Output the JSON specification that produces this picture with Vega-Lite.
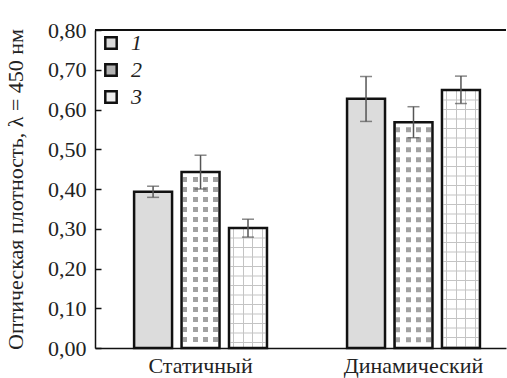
{
  "$schema": "https://vega.github.io/schema/vega-lite/v6.json",
  "width": 411,
  "height": 318,
  "autosize": {"type": "none"},
  "padding": {"left": 95, "top": 30, "right": 1, "bottom": 30},
  "background": "white",
  "config": {
    "view": {"stroke": null},
    "font": "Liberation Serif",
    "axis": {"labelFont": "Liberation Serif", "titleFont": "Liberation Serif", "labelColor": "#222", "titleColor": "#222", "domainColor": "#111", "domainWidth": 1.5, "grid": false},
    "legend": {"labelFont": "Liberation Serif"}
  },
  "data": {
    "values": [
      {"group": "Статичный", "series": "1", "value": 0.393, "lo": 0.379, "hi": 0.407},
      {"group": "Статичный", "series": "2", "value": 0.443, "lo": 0.400, "hi": 0.485},
      {"group": "Статичный", "series": "3", "value": 0.302, "lo": 0.279, "hi": 0.324},
      {"group": "Динамический", "series": "1", "value": 0.627, "lo": 0.570, "hi": 0.683},
      {"group": "Динамический", "series": "2", "value": 0.568, "lo": 0.529, "hi": 0.607},
      {"group": "Динамический", "series": "3", "value": 0.649, "lo": 0.615, "hi": 0.684}
    ]
  },
  "encoding": {
    "x": {
      "field": "group", "type": "nominal", "sort": ["Статичный", "Динамический"],
      "scale": {"paddingInner": 0.376, "paddingOuter": 0.153, "align": 0.6},
      "axis": {"title": null, "labelFontSize": 22, "labelPadding": 7, "ticks": false, "labelAngle": 0}
    },
    "xOffset": {"field": "series", "type": "nominal", "scale": {"paddingInner": 0.2, "paddingOuter": 0}}
  },
  "layer": [
    {
      "mark": {"type": "bar"},
      "encoding": {
        "y": {
          "field": "value", "type": "quantitative", "title": "Оптическая плотность, λ = 450 нм",
          "scale": {"domain": [0, 0.8], "nice": false},
          "axis": {"values": [0, 0.1, 0.2, 0.3, 0.4, 0.5, 0.6, 0.7, 0.8], "labelExpr": "replace(format(datum.value, '.2f'), '.', ',')", "labelFontSize": 22, "titleFontSize": 22, "titleFontWeight": "normal", "tickSize": -6, "tickColor": "#111", "tickWidth": 1.5, "labelPadding": 15, "titlePadding": 20, "labelOverlap": false}
        },
        "color": {
          "field": "series", "type": "nominal",
          "scale": {"domain": ["1", "2", "3"], "range": ["#dcdcdc", "#b2b2b2", "#efefef"]},
          "legend": {"title": null, "orient": "none", "legendX": 5, "legendY": 2, "symbolType": "square", "symbolSize": 130, "symbolStrokeColor": "#111", "symbolStrokeWidth": 2.5, "symbolOpacity": 1, "labelFontSize": 22, "labelFontStyle": "italic", "labelColor": "#222", "rowPadding": 5, "labelOffset": 9}
        }
      }
    },
    {
      "transform": [{"filter": "datum.series == '2'"}],
      "mark": {"type": "bar", "fill": {"gradient": "linear", "x1": 0, "y1": 0, "x2": 1, "y2": 0, "stops": [
        {"offset": 0, "color": "#ffffff"}, {"offset": 0.025, "color": "#ffffff"}, {"offset": 0.025, "color": "#a2a2a2"}, {"offset": 0.155, "color": "#a2a2a2"}, {"offset": 0.155, "color": "#ffffff"},
        {"offset": 0.295, "color": "#ffffff"}, {"offset": 0.295, "color": "#a2a2a2"}, {"offset": 0.425, "color": "#a2a2a2"}, {"offset": 0.425, "color": "#ffffff"},
        {"offset": 0.565, "color": "#ffffff"}, {"offset": 0.565, "color": "#a2a2a2"}, {"offset": 0.695, "color": "#a2a2a2"}, {"offset": 0.695, "color": "#ffffff"},
        {"offset": 0.835, "color": "#ffffff"}, {"offset": 0.835, "color": "#a2a2a2"}, {"offset": 0.965, "color": "#a2a2a2"}, {"offset": 0.965, "color": "#ffffff"}, {"offset": 1, "color": "#ffffff"}
      ]}},
      "encoding": {"y": {"field": "value", "type": "quantitative", "title": "Оптическая плотность, λ = 450 нм",
          "axis": {"values": [0, 0.1, 0.2, 0.3, 0.4, 0.5, 0.6, 0.7, 0.8], "labelExpr": "replace(format(datum.value, '.2f'), '.', ',')", "labelFontSize": 22, "titleFontSize": 22, "titleFontWeight": "normal", "tickSize": -6, "tickColor": "#111", "tickWidth": 1.5, "labelPadding": 15, "titlePadding": 20, "labelOverlap": false}}}
    },
    {
      "transform": [{"filter": "datum.series == '2'"}],
      "mark": {"type": "rule", "color": "#ffffff", "strokeWidth": 35, "strokeDash": [5, 5]},
      "encoding": {"y": {"field": "value", "type": "quantitative", "title": "Оптическая плотность, λ = 450 нм",
          "axis": {"values": [0, 0.1, 0.2, 0.3, 0.4, 0.5, 0.6, 0.7, 0.8], "labelExpr": "replace(format(datum.value, '.2f'), '.', ',')", "labelFontSize": 22, "titleFontSize": 22, "titleFontWeight": "normal", "tickSize": -6, "tickColor": "#111", "tickWidth": 1.5, "labelPadding": 15, "titlePadding": 20, "labelOverlap": false}}, "y2": {"datum": 0}}
    },
    {
      "transform": [{"filter": "datum.series == '3'"}],
      "mark": {"type": "bar", "fill": {"gradient": "linear", "x1": 0, "y1": 0, "x2": 1, "y2": 0, "stops": [
        {"offset": 0, "color": "#ffffff"}, {"offset": 0.11, "color": "#ffffff"}, {"offset": 0.11, "color": "#c4c4c4"}, {"offset": 0.14, "color": "#c4c4c4"}, {"offset": 0.14, "color": "#ffffff"},
        {"offset": 0.36, "color": "#ffffff"}, {"offset": 0.36, "color": "#c4c4c4"}, {"offset": 0.39, "color": "#c4c4c4"}, {"offset": 0.39, "color": "#ffffff"},
        {"offset": 0.61, "color": "#ffffff"}, {"offset": 0.61, "color": "#c4c4c4"}, {"offset": 0.64, "color": "#c4c4c4"}, {"offset": 0.64, "color": "#ffffff"},
        {"offset": 0.86, "color": "#ffffff"}, {"offset": 0.86, "color": "#c4c4c4"}, {"offset": 0.89, "color": "#c4c4c4"}, {"offset": 0.89, "color": "#ffffff"}, {"offset": 1, "color": "#ffffff"}
      ]}},
      "encoding": {"y": {"field": "value", "type": "quantitative", "title": "Оптическая плотность, λ = 450 нм",
          "axis": {"values": [0, 0.1, 0.2, 0.3, 0.4, 0.5, 0.6, 0.7, 0.8], "labelExpr": "replace(format(datum.value, '.2f'), '.', ',')", "labelFontSize": 22, "titleFontSize": 22, "titleFontWeight": "normal", "tickSize": -6, "tickColor": "#111", "tickWidth": 1.5, "labelPadding": 15, "titlePadding": 20, "labelOverlap": false}}}
    },
    {
      "transform": [{"filter": "datum.series == '3'"}],
      "mark": {"type": "rule", "color": "#c4c4c4", "strokeWidth": 35, "strokeDash": [1, 8.5]},
      "encoding": {"y": {"field": "value", "type": "quantitative", "title": "Оптическая плотность, λ = 450 нм",
          "axis": {"values": [0, 0.1, 0.2, 0.3, 0.4, 0.5, 0.6, 0.7, 0.8], "labelExpr": "replace(format(datum.value, '.2f'), '.', ',')", "labelFontSize": 22, "titleFontSize": 22, "titleFontWeight": "normal", "tickSize": -6, "tickColor": "#111", "tickWidth": 1.5, "labelPadding": 15, "titlePadding": 20, "labelOverlap": false}}, "y2": {"datum": 0}}
    },
    {
      "mark": {"type": "bar", "fill": null, "fillOpacity": 0, "stroke": "#111111", "strokeWidth": 2.5},
      "encoding": {"y": {"field": "value", "type": "quantitative", "title": "Оптическая плотность, λ = 450 нм",
          "axis": {"values": [0, 0.1, 0.2, 0.3, 0.4, 0.5, 0.6, 0.7, 0.8], "labelExpr": "replace(format(datum.value, '.2f'), '.', ',')", "labelFontSize": 22, "titleFontSize": 22, "titleFontWeight": "normal", "tickSize": -6, "tickColor": "#111", "tickWidth": 1.5, "labelPadding": 15, "titlePadding": 20, "labelOverlap": false}}}
    },
    {
      "mark": {"type": "rule", "color": "#555555", "strokeWidth": 1.5},
      "encoding": {"y": {"field": "lo", "type": "quantitative", "title": "Оптическая плотность, λ = 450 нм",
          "axis": {"values": [0, 0.1, 0.2, 0.3, 0.4, 0.5, 0.6, 0.7, 0.8], "labelExpr": "replace(format(datum.value, '.2f'), '.', ',')", "labelFontSize": 22, "titleFontSize": 22, "titleFontWeight": "normal", "tickSize": -6, "tickColor": "#111", "tickWidth": 1.5, "labelPadding": 15, "titlePadding": 20, "labelOverlap": false}}, "y2": {"field": "hi"}}
    },
    {
      "mark": {"type": "tick", "color": "#555555", "thickness": 1.5, "size": 12, "orient": "horizontal"},
      "encoding": {"y": {"field": "lo", "type": "quantitative", "title": "Оптическая плотность, λ = 450 нм",
          "axis": {"values": [0, 0.1, 0.2, 0.3, 0.4, 0.5, 0.6, 0.7, 0.8], "labelExpr": "replace(format(datum.value, '.2f'), '.', ',')", "labelFontSize": 22, "titleFontSize": 22, "titleFontWeight": "normal", "tickSize": -6, "tickColor": "#111", "tickWidth": 1.5, "labelPadding": 15, "titlePadding": 20, "labelOverlap": false}}}
    },
    {
      "mark": {"type": "tick", "color": "#555555", "thickness": 1.5, "size": 12, "orient": "horizontal"},
      "encoding": {"y": {"field": "hi", "type": "quantitative", "title": "Оптическая плотность, λ = 450 нм",
          "axis": {"values": [0, 0.1, 0.2, 0.3, 0.4, 0.5, 0.6, 0.7, 0.8], "labelExpr": "replace(format(datum.value, '.2f'), '.', ',')", "labelFontSize": 22, "titleFontSize": 22, "titleFontWeight": "normal", "tickSize": -6, "tickColor": "#111", "tickWidth": 1.5, "labelPadding": 15, "titlePadding": 20, "labelOverlap": false}}}
    },
    {
      "mark": {"type": "rule", "color": "#111111", "strokeWidth": 1.5},
      "encoding": {"x": null, "xOffset": null, "y": {"datum": 0.8, "type": "quantitative", "title": "Оптическая плотность, λ = 450 нм",
          "axis": {"values": [0, 0.1, 0.2, 0.3, 0.4, 0.5, 0.6, 0.7, 0.8], "labelExpr": "replace(format(datum.value, '.2f'), '.', ',')", "labelFontSize": 22, "titleFontSize": 22, "titleFontWeight": "normal", "tickSize": -6, "tickColor": "#111", "tickWidth": 1.5, "labelPadding": 15, "titlePadding": 20, "labelOverlap": false}}}
    }
  ]
}
